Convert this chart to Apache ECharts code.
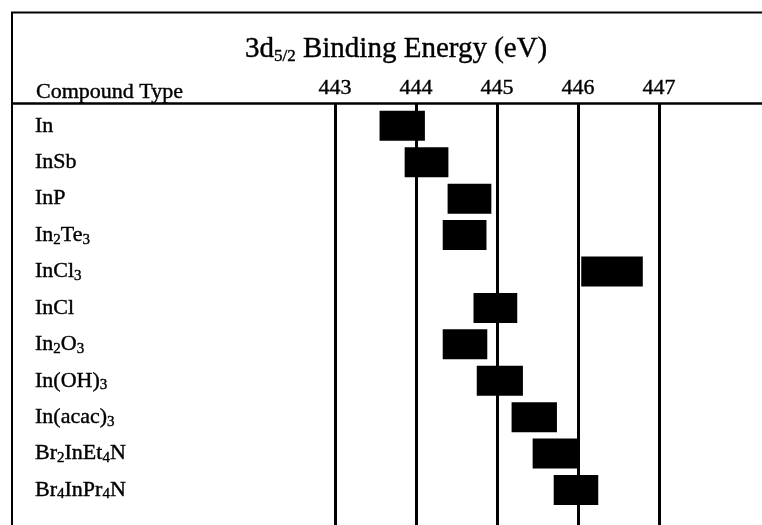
<!DOCTYPE html>
<html>
<head>
<meta charset="utf-8">
<script src="https://cdn.jsdelivr.net/npm/echarts@6/dist/echarts.min.js"></script>
<style>html,body{margin:0;padding:0;background:#fff;}#c{width:762px;height:525px;}</style>
</head>
<body>
<div id="c"></div>
<script>
// Compound types (rich-text markup gives the subscripts)
const compounds = [
  'In', 'InSb', 'InP', 'In{s|2}Te{s|3}', 'InCl{s|3}', 'InCl',
  'In{s|2}O{s|3}', 'In(OH){s|3}', 'In(acac){s|3}', 'Br{s|2}InEt{s|4}N', 'Br{s|4}InPr{s|4}N'
];
// 3d5/2 binding energy ranges (eV)
const rangeStart = [443.55, 443.86, 444.39, 444.33, 446.04, 444.71, 444.33, 444.75, 445.18, 445.44, 445.70];
const rangeEnd   = [444.11, 444.40, 444.93, 444.87, 446.80, 445.25, 444.88, 445.32, 445.74, 446.02, 446.25];
const energyTicks = [443, 444, 445, 446, 447];

const FONT = '"Liberation Serif", "DejaVu Serif", serif';
const INK = { color: '#000', textBorderColor: '#000', textBorderWidth: 0.4 };
const data = compounds.map((c, i) => [rangeStart[i], rangeEnd[i], i]);
const rowIdx = compounds.map((c, i) => i);

const chart = echarts.init(document.getElementById('c'), null, {renderer: 'canvas'});
chart.setOption({
  backgroundColor: '#fff',
  animation: false,
  title: [
    {
      text: '3d{s|5/2} Binding Energy (eV)',
      left: 240, top: 28,
      textStyle: Object.assign({
        fontFamily: FONT, fontSize: 29, fontWeight: 'normal', lineHeight: 32,
        rich: { s: Object.assign({ fontFamily: FONT, fontSize: 17, verticalAlign: 'bottom', lineHeight: 19 }, INK) }
      }, INK)
    },
    {
      text: 'Compound Type',
      left: 31, top: 76,
      textStyle: Object.assign({ fontFamily: FONT, fontSize: 22, fontWeight: 'normal' }, INK)
    }
  ],
  grid: { left: 335, right: 103, top: 104, bottom: 0, containLabel: false },
  xAxis: {
    type: 'value', position: 'top',
    min: energyTicks[0], max: energyTicks[energyTicks.length - 1], interval: 1,
    axisLine: { show: false }, axisTick: { show: false },
    axisLabel: Object.assign({ margin: 5, fontFamily: FONT, fontSize: 22,
      formatter: v => String(v) }, INK),
    splitLine: { show: true, showMinLine: true, showMaxLine: true, lineStyle: { color: '#000', width: 3 } }
  },
  yAxis: {
    type: 'value', inverse: true, min: -0.6, max: 10.96,
    axisLine: { show: false }, axisTick: { show: false }, splitLine: { show: false },
    axisLabel: Object.assign({
      customValues: rowIdx,
      align: 'left', margin: 300,
      fontFamily: FONT, fontSize: 22, lineHeight: 24,
      formatter: v => compounds[Math.round(v)] || '',
      rich: { s: Object.assign({ fontFamily: FONT, fontSize: 15, verticalAlign: 'bottom', lineHeight: 18 }, INK) }
    }, INK)
  },
  series: [{
    type: 'custom',
    clip: false,
    encode: { x: [0, 1], y: 2 },
    data: data,
    renderItem: (params, api) => {
      const s = api.coord([api.value(0), api.value(2)]);
      const e = api.coord([api.value(1), api.value(2)]);
      const h = 30;
      return { type: 'rect', shape: { x: s[0], y: s[1] - h / 2, width: e[0] - s[0], height: h },
               style: { fill: '#000' } };
    }
  }],
  graphic: [
    { type: 'line', shape: { x1: 11, y1: 12.5, x2: 762, y2: 12.5 }, style: { stroke: '#000', lineWidth: 2 } },
    { type: 'line', shape: { x1: 12, y1: 12, x2: 12, y2: 525 }, style: { stroke: '#000', lineWidth: 2 } },
    { type: 'line', shape: { x1: 12, y1: 103.5, x2: 762, y2: 103.5 }, style: { stroke: '#000', lineWidth: 2.5 } }
  ]
});
</script>
</body>
</html>
